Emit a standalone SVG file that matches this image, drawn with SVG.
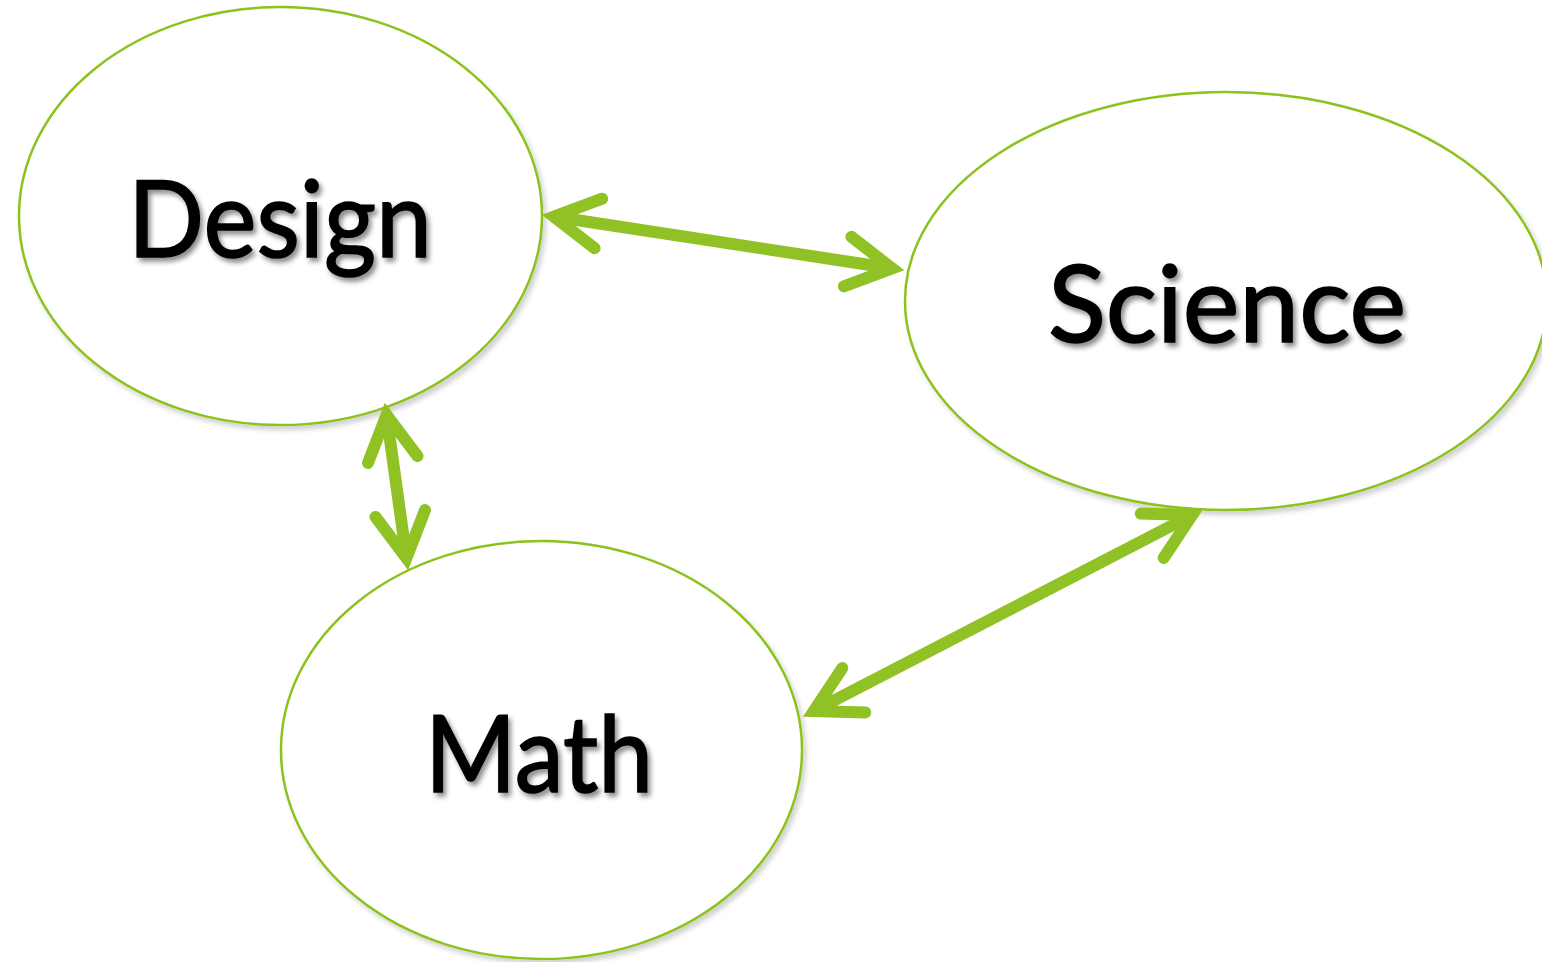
<svg xmlns="http://www.w3.org/2000/svg" width="1542" height="962" viewBox="0 0 1542 962">
  <defs>
    <filter id="shapeShadow" x="-10%" y="-10%" width="120%" height="125%">
      <feDropShadow dx="3" dy="4" stdDeviation="2.5" flood-color="#000" flood-opacity="0.18"/>
    </filter>
    <filter id="textShadow" x="-10%" y="-20%" width="120%" height="150%">
      <feDropShadow dx="3" dy="4" stdDeviation="2.5" flood-color="#000" flood-opacity="0.45"/>
    </filter>
    <marker id="chevron" markerUnits="userSpaceOnUse" orient="auto-start-reverse" refX="0" refY="0" markerWidth="80" markerHeight="80" viewBox="-60 -40 80 80" overflow="visible">
      <path d="M-44,-25 L1,0 L-44,25" fill="none" stroke="#91c225" stroke-width="12" stroke-linecap="round" stroke-linejoin="miter" stroke-miterlimit="10"/>
    </marker>
  </defs>
  <style>
    .node ellipse { fill: #ffffff; stroke: #8cc21f; stroke-width: 2.5; filter: url(#shapeShadow); }
    .node text { font-family: "Lato", "Open Sans", "Liberation Sans", sans-serif; font-size: 107px; fill: #000; stroke: #000; stroke-width: 1.6; text-anchor: middle; filter: url(#textShadow); }
    .link { fill: none; stroke: #91c225; stroke-width: 12; marker-start: url(#chevron); marker-end: url(#chevron); }
  </style>
  <rect width="1542" height="962" fill="#ffffff"/>

  <g id="node-design" class="node">
    <ellipse cx="280.5" cy="216" rx="261.5" ry="209"/>
    <text x="280" y="257" textLength="304" lengthAdjust="spacingAndGlyphs">Design</text>
  </g>
  <g id="node-science" class="node">
    <ellipse cx="1226" cy="301" rx="321" ry="209"/>
    <text x="1227" y="342" textLength="358" lengthAdjust="spacingAndGlyphs">Science</text>
  </g>
  <g id="node-math" class="node">
    <ellipse cx="541.5" cy="750" rx="260.5" ry="209"/>
    <text x="539" y="792" textLength="228" lengthAdjust="spacingAndGlyphs">Math</text>
  </g>

  <g id="connectors">
    <path class="link" d="M554.9,216.8 L891.1,268.2"/>
    <path class="link" d="M386.7,415.9 L406.3,557.1"/>
    <path class="link" d="M1191.3,515.5 L814.7,710.5"/>
  </g>
</svg>
